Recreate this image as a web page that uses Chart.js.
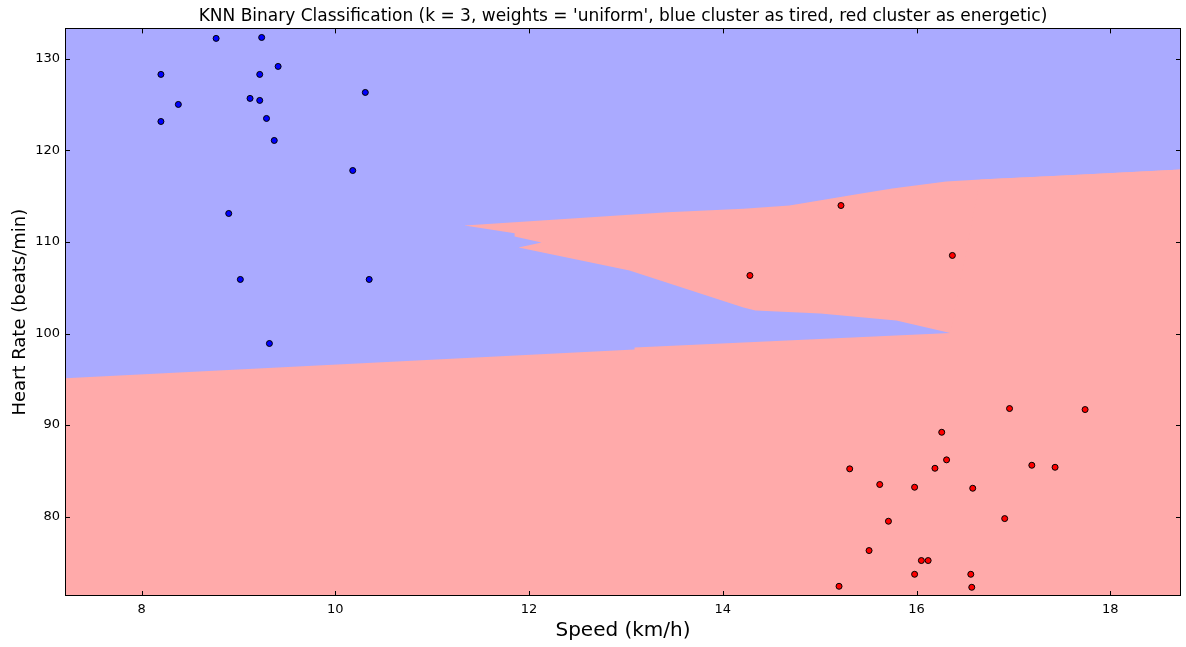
<!DOCTYPE html>
<html>
<head>
<meta charset="utf-8">
<script src="https://cdn.jsdelivr.net/npm/chart.js@4/dist/chart.umd.min.js"></script>
<style>
  html, body { margin: 0; padding: 0; background: #ffffff; }
  #c { display: block; }
</style>
</head>
<body>
<canvas id="c" width="1186" height="647"></canvas>
<script>
// ---- Data ----
const titleText = "KNN Binary Classification (k = 3, weights = 'uniform', blue cluster as tired, red cluster as energetic)";
const xLabel = "Speed (km/h)";
const yLabel = "Heart Rate (beats/min)";

const xTicks = [8, 10, 12, 14, 16, 18];
const yTicks = [80, 90, 100, 110, 120, 130];
const xRange = [7.21, 18.73];
const yRange = [71.35, 133.3];

// Tired (blue) cluster: speed, heart rate
const tiredSpeed = [8.20, 8.38, 8.20, 8.77, 9.24, 9.22, 9.41, 9.12, 9.22, 9.29, 9.37, 10.31, 10.18, 8.90, 9.02, 10.35, 9.32];
const tiredHR    = [128.28, 125.0, 123.14, 132.21, 132.31, 128.28, 129.15, 125.66, 125.44, 123.47, 121.07, 126.31, 117.79, 113.10, 105.90, 105.90, 98.91];

// Energetic (red) cluster: speed, heart rate
const energeticSpeed = [15.22, 14.28, 16.37, 16.96, 17.74, 16.26, 16.31, 16.19, 15.31, 17.19, 17.43, 15.62, 15.98, 16.58, 15.71, 16.91, 15.51, 16.05, 16.12, 15.98, 16.56, 15.20, 16.57];
const energeticHR    = [113.97, 106.33, 108.52, 91.81, 91.70, 89.22, 86.21, 85.29, 85.23, 85.62, 85.40, 83.52, 83.22, 83.11, 79.51, 79.80, 76.31, 75.22, 75.22, 73.72, 73.72, 72.41, 72.30];

// Decision boundary traces
// Upper edge of the energetic region (from the tip of the red prong to the right edge)
const upperEdgeX = [11.335, 11.851, 13.429, 14.213, 14.687, 15.399, 15.749, 16.306, 16.657, 17.523, 18.73];
const upperEdgeY = [111.79, 112.15, 113.24, 113.61, 113.97, 115.23, 115.83, 116.59, 116.81, 117.25, 117.90];
// Lower edge of the red prong (top of the blue wedge)
const prongEdgeX = [11.335, 11.851, 11.851, 12.129, 11.892, 13.037, 14.213, 14.337, 15.007, 15.791, 16.348];
const prongEdgeY = [111.79, 110.95, 110.60, 109.93, 109.39, 106.88, 102.84, 102.51, 102.18, 101.42, 100.05];
// Lower boundary (bottom of the blue region / wedge)
const lowerEdgeX = [7.21, 13.089, 13.089, 16.348];
const lowerEdgeY = [95.12, 98.25, 98.47, 100.05];

const BLUE_BG = '#AAAAFF';
const RED_BG = '#FFAAAA';

const pts = (xs, ys) => xs.map((x, i) => ({ x: x, y: ys[i] }));

// Blue layer: everything left of the prong tip, then everything under the prong's lower edge
const wedgeData = [{ x: xRange[0], y: yRange[1] }, { x: prongEdgeX[0], y: yRange[1] }]
  .concat(pts(prongEdgeX, prongEdgeY));
// Red layer: under the lower boundary, then joining the upper edge to the right
const lastLowerX = lowerEdgeX[lowerEdgeX.length - 1];
const lowerData = pts(lowerEdgeX, lowerEdgeY)
  .concat(pts(upperEdgeX, upperEdgeY).filter(p => p.x > lastLowerX + 0.2));

const FONT = "'DejaVu Sans', 'Liberation Sans', sans-serif";

const framePlugin = {
  id: 'frame',
  beforeDatasetsDraw(chart) {
    const { ctx, chartArea: a } = chart;
    ctx.save();
    ctx.fillStyle = BLUE_BG;
    ctx.fillRect(a.left, a.top, a.right - a.left, a.bottom - a.top);
    ctx.restore();
  },
  afterDatasetsDraw(chart) {
    const { ctx, chartArea: a, scales } = chart;
    const L = 5;
    ctx.save();
    ctx.strokeStyle = '#000000';
    ctx.lineWidth = 1;
    ctx.beginPath();
    xTicks.forEach(v => {
      const p = Math.round(scales.x.getPixelForValue(v)) + 0.5;
      ctx.moveTo(p, a.bottom); ctx.lineTo(p, a.bottom - L);
      ctx.moveTo(p, a.top); ctx.lineTo(p, a.top + L);
    });
    yTicks.forEach(v => {
      const p = Math.round(scales.y.getPixelForValue(v)) + 0.5;
      ctx.moveTo(a.left, p); ctx.lineTo(a.left + L, p);
      ctx.moveTo(a.right, p); ctx.lineTo(a.right - L, p);
    });
    ctx.stroke();
    ctx.strokeRect(Math.round(a.left) + 0.5, Math.round(a.top) + 0.5,
                   Math.round(a.right - a.left) - 1, Math.round(a.bottom - a.top) - 1);
    ctx.restore();
  }
};

const regionStyle = (color) => ({
  type: 'line',
  showLine: true,
  borderWidth: 0,
  borderColor: color,
  backgroundColor: color,
  pointRadius: 0,
  pointHoverRadius: 0,
  tension: 0,
  fill: 'start'
});

new Chart(document.getElementById('c'), {
  type: 'scatter',
  data: {
    datasets: [
      { label: 'tired', data: pts(tiredSpeed, tiredHR), order: 0,
        backgroundColor: '#0000FF', borderColor: '#000000', borderWidth: 1, pointRadius: 3 },
      { label: 'energetic', data: pts(energeticSpeed, energeticHR), order: 0,
        backgroundColor: '#FF0000', borderColor: '#000000', borderWidth: 1, pointRadius: 3 },
      Object.assign(regionStyle(RED_BG), { label: 'energetic region', data: pts(upperEdgeX, upperEdgeY), order: 3 }),
      Object.assign(regionStyle(BLUE_BG), { label: 'tired wedge', data: wedgeData, order: 2 }),
      Object.assign(regionStyle(RED_BG), { label: 'energetic lower', data: lowerData, order: 1 })
    ]
  },
  options: {
    responsive: false,
    devicePixelRatio: 1,
    animation: false,
    events: [],
    layout: { padding: { left: 0, right: 4, top: 0, bottom: 0 } },
    plugins: {
      legend: { display: false },
      tooltip: { enabled: false },
      title: {
        display: true,
        text: titleText,
        fullSize: false,
        color: '#000000',
        font: { family: FONT, size: 17, weight: 'normal' },
        padding: { top: 6, bottom: 2 }
      }
    },
    scales: {
      x: {
        type: 'linear',
        min: xRange[0],
        max: xRange[1],
        afterBuildTicks: s => { s.ticks = xTicks.map(v => ({ value: v })); },
        afterFit: s => { s.height = 51; },
        grid: { display: false, drawTicks: false },
        border: { display: false },
        ticks: {
          color: '#000000',
          font: { family: FONT, size: 13 },
          padding: 6,
          maxRotation: 0,
          autoSkip: false,
          callback: v => String(v)
        },
        title: {
          display: true,
          text: xLabel,
          color: '#000000',
          font: { family: FONT, size: 20 },
          padding: { top: 0, bottom: 4 }
        }
      },
      y: {
        type: 'linear',
        min: yRange[0],
        max: yRange[1],
        afterBuildTicks: s => { s.ticks = yTicks.map(v => ({ value: v })); },
        afterFit: s => { s.width = 65; },
        grid: { display: false, drawTicks: false },
        border: { display: false },
        ticks: {
          color: '#000000',
          font: { family: FONT, size: 13 },
          padding: 5,
          autoSkip: false,
          callback: v => String(v)
        },
        title: {
          display: true,
          text: yLabel,
          color: '#000000',
          font: { family: FONT, size: 18 },
          padding: { top: 10, bottom: 0 }
        }
      }
    }
  },
  plugins: [framePlugin]
});
</script>
</body>
</html>
